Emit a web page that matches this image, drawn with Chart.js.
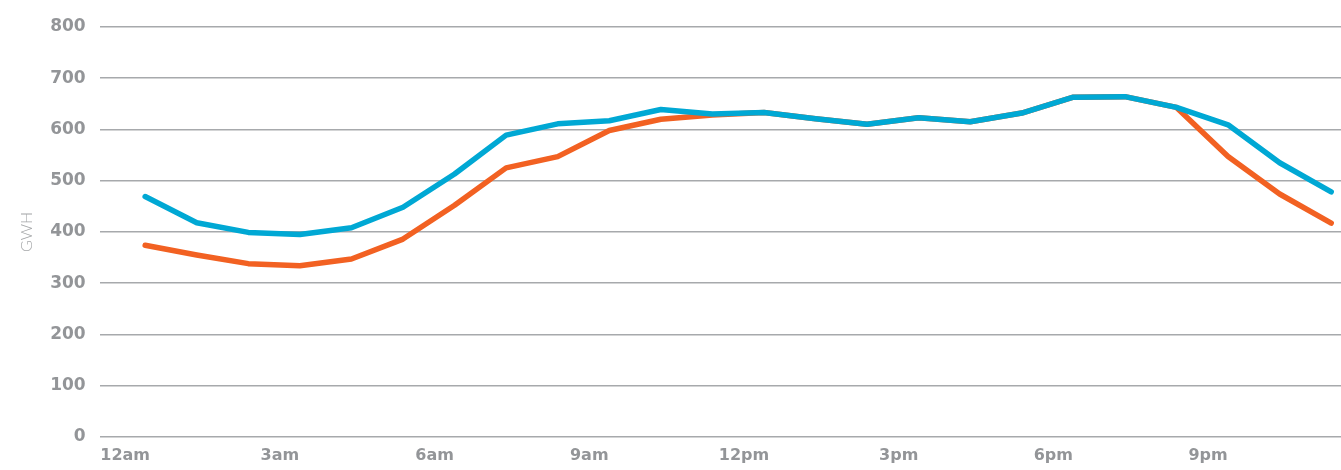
<!DOCTYPE html>
<html>
<head>
<meta charset="utf-8">
<script src="https://cdn.jsdelivr.net/npm/chart.js@4.4.0/dist/chart.umd.min.js"></script>
<style>
  html, body { margin: 0; padding: 0; background: #fff; }
  #wrap { width: 1341px; height: 470px; position: relative; }
</style>
</head>
<body>
<div id="wrap"><canvas id="GwhByHour"></canvas></div>
<script>
// hourly values
var hours = [0, 1, 2, 3, 4, 5, 6, 7, 8, 9, 10, 11, 12, 13, 14, 15, 16, 17, 18, 19, 20, 21, 22, 23];
var hourLabels = ["12am", "1am", "2am", "3am", "4am", "5am", "6am", "7am", "8am", "9am", "10am", "11am",
                  "12pm", "1pm", "2pm", "3pm", "4pm", "5pm", "6pm", "7pm", "8pm", "9pm", "10pm", "11pm"];
var blueSeries = [469, 418, 399, 395, 408, 448, 513, 589, 611, 617, 639, 630, 633, 621, 610, 623, 615, 632, 663, 664, 643, 609, 535, 478];
var orangeSeries = [374, 355, 338, 334, 347, 386, 452, 525, 547, 598, 620, 628, 633, 621, 610, 623, 615, 632, 663, 664, 643, 547, 474, 417];
var yTicks = [0, 100, 200, 300, 400, 500, 600, 700, 800];

function toPoints(vals) {
  return hours.map(function(h, i) { return { x: h, y: vals[i] }; });
}

var ctx = document.getElementById("GwhByHour").getContext("2d");
var myChart = new Chart(ctx, {
  type: "line",
  data: {
    datasets: [
      {
        label: "Series 1",
        data: toPoints(blueSeries),
        fill: false,
        borderColor: "#00a8d4",
        backgroundColor: "#00a8d4",
        borderWidth: 5.5,
        pointRadius: 0,
        tension: 0,
        borderCapStyle: "round",
        borderJoinStyle: "round",
      },
      {
        label: "Series 2",
        data: toPoints(orangeSeries),
        fill: false,
        borderColor: "#f26122",
        backgroundColor: "#f26122",
        borderWidth: 5.5,
        pointRadius: 0,
        tension: 0,
        borderCapStyle: "round",
        borderJoinStyle: "round",
      },
    ],
  },
  options: {
    responsive: true,
    maintainAspectRatio: false,
    animation: false,
    layout: { padding: { top: 27, right: 0, bottom: -4, left: 0 } },
    plugins: { legend: { display: false }, tooltip: { enabled: false } },
    scales: {
      x: {
        type: "linear",
        min: -0.882,
        max: 23.19,
        grid: { display: false, drawTicks: false },
        border: { display: false },
        ticks: {
          stepSize: 3,
          includeBounds: false,
          autoSkip: false,
          maxRotation: 0,
          padding: 9,
          labelOffset: -20,
          color: "#939598",
          font: { family: "'DejaVu Sans'", size: 16, weight: "bold" },
          callback: function(v) { return hourLabels[v]; },
        },
      },
      y: {
        min: 0,
        max: 800,
        afterBuildTicks: function(scale) {
          scale.ticks = yTicks.map(function(v) { return { value: v }; });
        },
        grid: { color: "#a7a9ac", lineWidth: 1.5, drawTicks: false },
        border: { display: false },
        ticks: {
          padding: 14,
          color: "#939598",
          font: { family: "'DejaVu Sans'", size: 17, weight: "bold" },
        },
        title: {
          display: true,
          text: "GWH",
          color: "#a5a7a9",
          padding: { top: 17, bottom: 0 },
          font: { family: "Lato, 'Open Sans', sans-serif", size: 16, weight: 300 },
        },
      },
    },
  },
});
</script>
</body>
</html>
